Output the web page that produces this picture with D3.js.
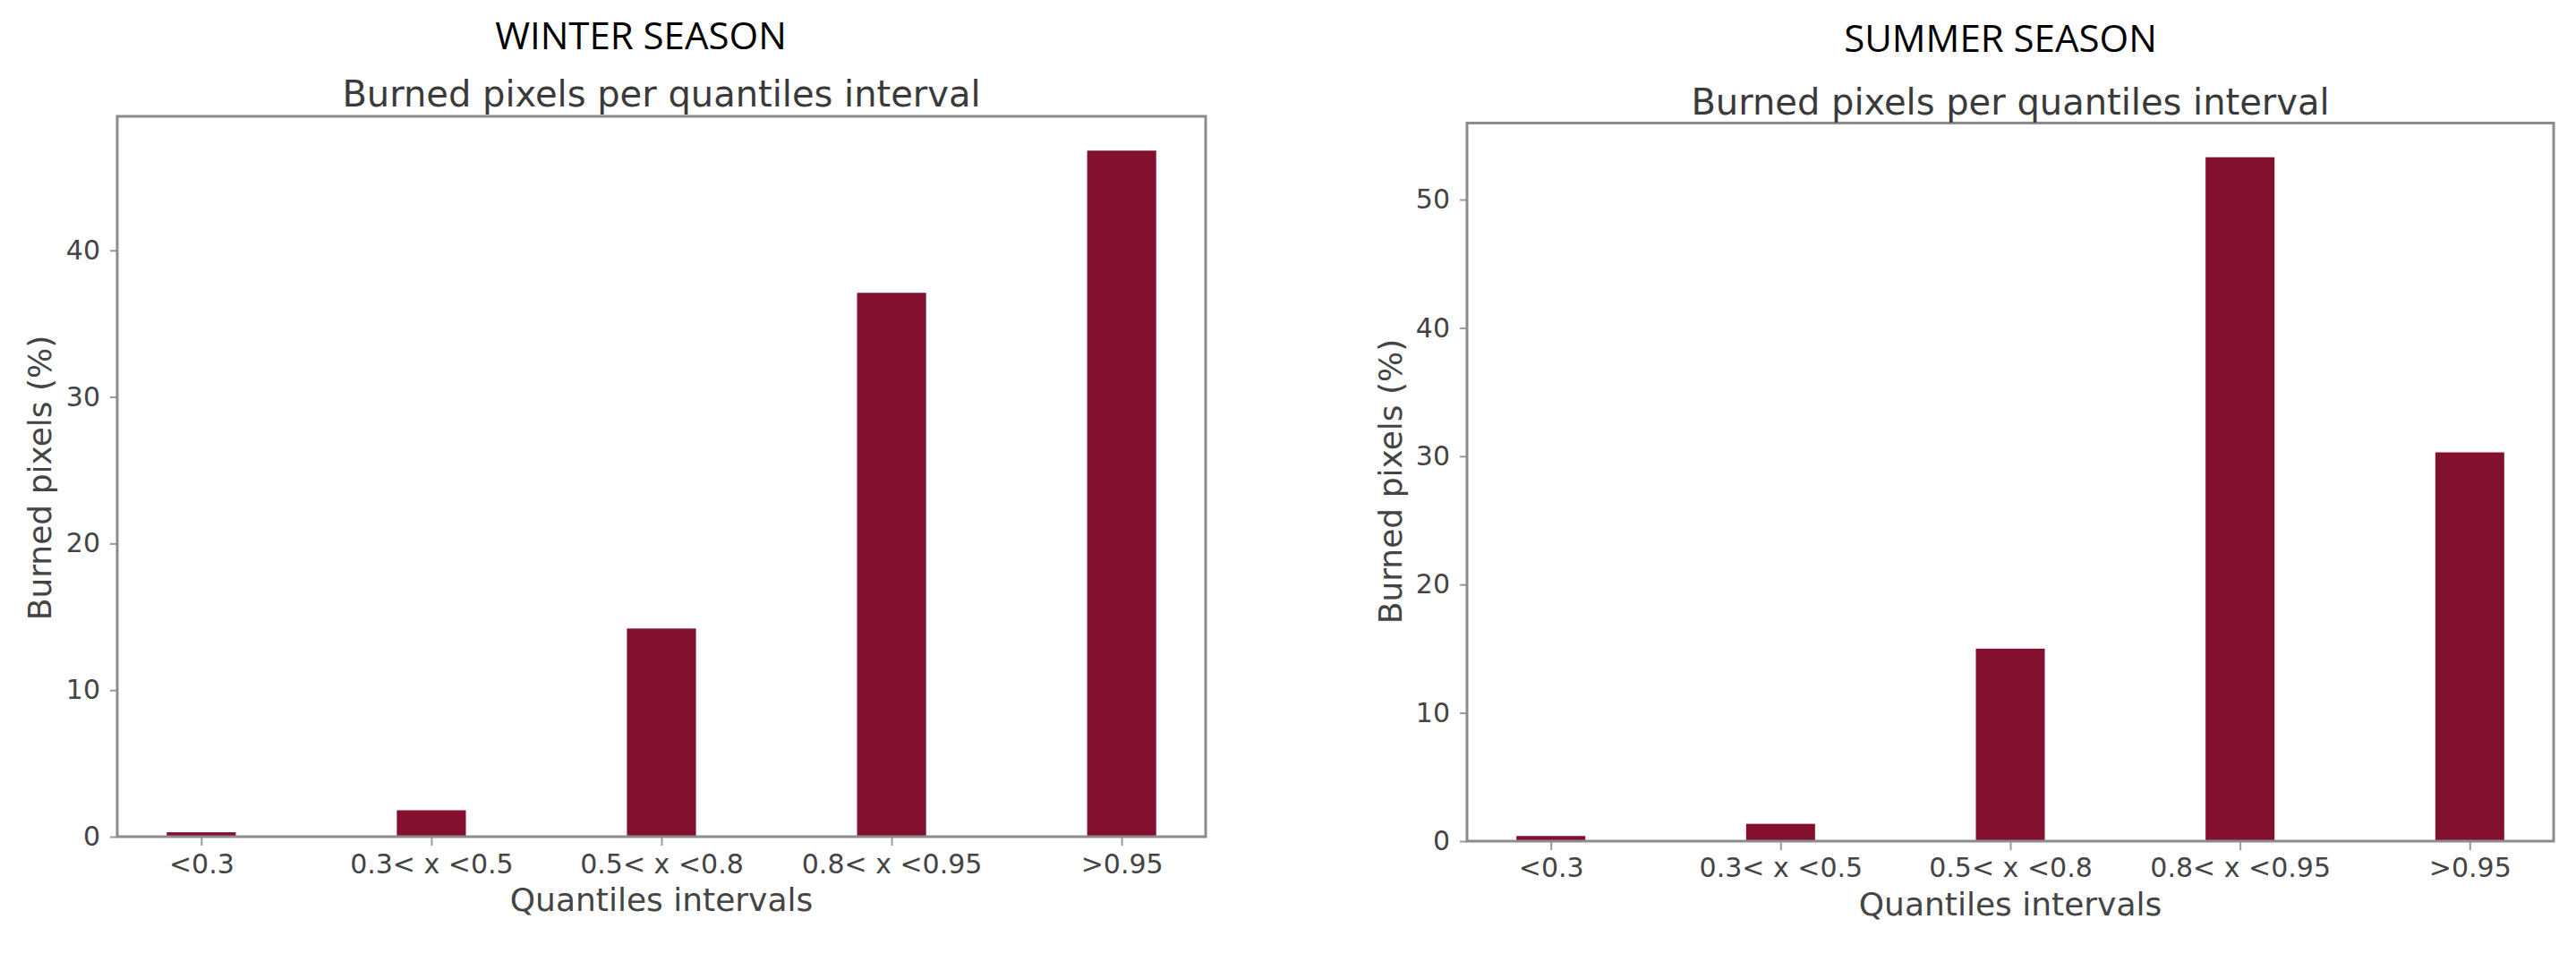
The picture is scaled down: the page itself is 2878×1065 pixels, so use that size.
<!DOCTYPE html>
<html>
<head>
  <meta charset="utf-8">
  <title>Burned pixels per quantiles interval</title>
  <script type="text/javascript" src="https://cdn.jsdelivr.net/npm/d3@7"></script>
</head>
<style>
  body {
    margin: 0;
    background: #fff;
  }

  .season {
    font-family: "Open Sans", "Noto Sans", sans-serif;
    font-size: 42px;
    fill: #000;
  }

  .subtitle {
    font-family: "DejaVu Sans", sans-serif;
    font-size: 40px;
    fill: #3a3a3a;
  }

  .axisLabel {
    font-family: "DejaVu Sans", sans-serif;
    font-size: 36px;
    fill: #444;
  }

  .axis text {
    font-family: "DejaVu Sans", sans-serif;
    font-size: 30px;
    fill: #444;
  }

  .axis line {
    stroke: #999;
    stroke-width: 2;
  }
</style>

<body>

  <script type="text/javascript">
    // data
    var categories = ["<0.3", "0.3< x <0.5", "0.5< x <0.8", "0.8< x <0.95", ">0.95"];
    var winterValues = [0.3, 1.8, 14.2, 37.1, 46.8];
    var summerValues = [0.4, 1.35, 15.0, 53.3, 30.3];
    var seasonTitles = ["WINTER SEASON", "SUMMER SEASON"];
    var subtitle = "Burned pixels per quantiles interval";
    var xLabel = "Quantiles intervals";
    var yLabel = "Burned pixels (%)";

    var barColor = "#82102e";

    var svg = d3.select("body")
      .append("svg")
      .attr("width", 2878)
      .attr("height", 1065);

    // winter panel
    generateChart(winterValues, seasonTitles[0], {
      left: 131, right: 1347, top: 130, bottom: 935,
      titleX: 716, titleY: 55, subY: 119, xLabelY: 1018, yLabelX: 57, yLabelY: 534, tickPad: 10
    });

    // summer panel
    generateChart(summerValues, seasonTitles[1], {
      left: 1639, right: 2853, top: 137.5, bottom: 940,
      titleX: 2235, titleY: 58, subY: 128, xLabelY: 1023, yLabelX: 1566, yLabelY: 538, tickPad: 9
    });

    function generateChart(values, title, box) {
      var g = svg.append("g");

      var xScale = d3.scalePoint()
        .domain(categories)
        .range([box.left, box.right])
        .padding(0.365);

      var barWidth = xScale.step() * 0.3;

      var yScale = d3.scaleLinear()
        .domain([0, d3.max(values) * 1.05])
        .range([box.bottom, box.top]);

      // bars
      g.selectAll("rect.bar")
        .data(values)
        .enter()
        .append("rect")
        .attr("class", "bar")
        .attr("fill", barColor)
        .attr("x", function(d, i) {
          return xScale(categories[i]) - barWidth / 2;
        })
        .attr("width", barWidth)
        .attr("y", function(d) {
          return yScale(d);
        })
        .attr("height", function(d) {
          return yScale(0) - yScale(d);
        });

      // axes
      var xAxis = d3.axisBottom(xScale)
        .tickSize(10)
        .tickPadding(box.tickPad);

      g.append("g")
        .attr("class", "axis xAxis")
        .attr("transform", "translate(0," + box.bottom + ")")
        .call(xAxis)
        .call(function(a) { a.select(".domain").remove(); });

      var yAxis = d3.axisLeft(yScale)
        .ticks(6)
        .tickSize(8)
        .tickPadding(11);

      g.append("g")
        .attr("class", "axis yAxis")
        .attr("transform", "translate(" + box.left + ",0)")
        .call(yAxis)
        .call(function(a) { a.select(".domain").remove(); });

      // frame
      g.append("rect")
        .attr("x", box.left)
        .attr("y", box.top)
        .attr("width", box.right - box.left)
        .attr("height", box.bottom - box.top)
        .attr("fill", "none")
        .attr("stroke", "#8c8c8c")
        .attr("stroke-width", 3);

      // texts
      var cx = (box.left + box.right) / 2;

      g.append("text")
        .attr("class", "season")
        .attr("x", box.titleX)
        .attr("y", box.titleY)
        .style("text-anchor", "middle")
        .text(title);

      g.append("text")
        .attr("class", "subtitle")
        .attr("x", cx)
        .attr("y", box.subY)
        .style("text-anchor", "middle")
        .text(subtitle);

      g.append("text")
        .attr("class", "axisLabel")
        .attr("x", cx)
        .attr("y", box.xLabelY)
        .style("text-anchor", "middle")
        .text(xLabel);

      g.append("text")
        .attr("class", "axisLabel")
        .attr("transform", "translate(" + box.yLabelX + "," + box.yLabelY + ") rotate(-90)")
        .style("text-anchor", "middle")
        .text(yLabel);
    }
  </script>

</body>
</html>
